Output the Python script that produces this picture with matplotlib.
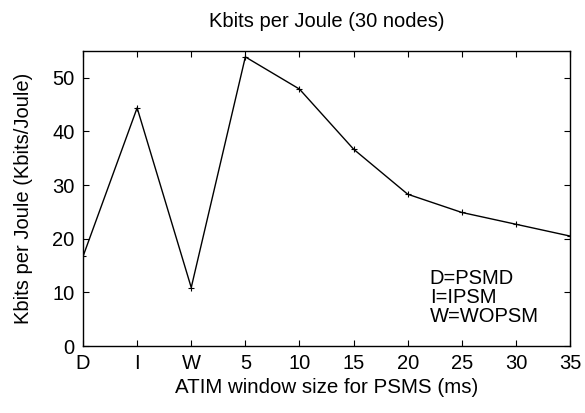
import matplotlib
matplotlib.use("Agg")
import matplotlib.pyplot as plt

# data
labels = ["D", "I", "W", "5", "10", "15", "20", "25", "30", "35"]
kbits = [16.7, 44.4, 10.9, 53.9, 47.9, 36.7, 28.3, 24.9, 22.7, 20.5]
notes = ["D=PSMD", "I=IPSM", "W=WOPSM"]

plt.rcParams["font.family"] = ["Liberation Sans", "DejaVu Sans"]
fs = 14.5

fig = plt.figure(figsize=(5.85, 4.13), dpi=100)
ax = fig.add_axes([0.1419, 0.1622, 0.8325, 0.7143])

x = list(range(len(labels)))
ax.plot(x, kbits, color="black", linewidth=1, marker="+", markersize=5, markeredgewidth=0.8)

ax.set_xlim(0, len(labels) - 1)
ax.set_ylim(0, 55)
ax.set_xticks(x)
ax.set_xticklabels(labels)
ax.set_yticks(range(0, 51, 10))
ax.tick_params(direction="in", top=True, right=True, length=4, labelsize=fs, pad=6)
for s in ax.spines.values():
    s.set_linewidth(1)

ax.set_title("Kbits per Joule (30 nodes)", fontsize=fs, pad=17)
ax.set_xlabel("ATIM window size for PSMS (ms)", fontsize=14.8, labelpad=3)
ax.set_ylabel("Kbits per Joule (Kbits/Joule)", fontsize=fs, labelpad=14)

ax.text(0.712, 0.262, "\n".join(notes), transform=ax.transAxes, fontsize=fs,
        va="top", ha="left", linespacing=1.0)

fig.savefig("out.png", dpi=100)
